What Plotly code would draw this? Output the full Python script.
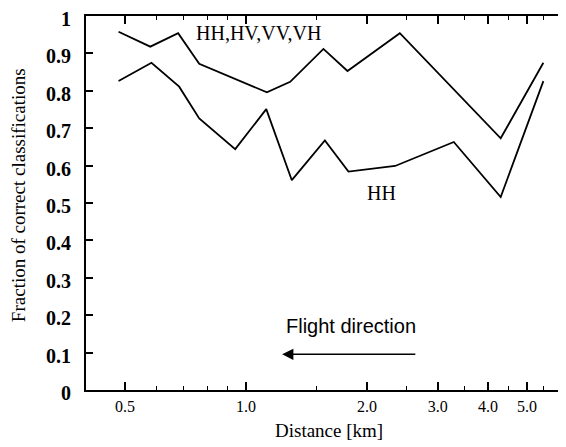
import math
import plotly.graph_objects as go

# Data
distance_all = [0.482, 0.578, 0.678, 0.765, 1.127, 1.288, 1.558, 1.788, 2.413, 4.30, 5.49]
fraction_all = [0.958, 0.918, 0.954, 0.872, 0.796, 0.824, 0.912, 0.853, 0.954, 0.673, 0.875]

distance_hh = [0.482, 0.582, 0.682, 0.765, 0.940, 1.123, 1.30, 1.571, 1.798, 2.349, 3.287, 4.30, 5.49]
fraction_hh = [0.826, 0.875, 0.811, 0.726, 0.644, 0.751, 0.561, 0.667, 0.584, 0.599, 0.663, 0.516, 0.826]

x_major_ticks = [0.5, 1.0, 2.0, 3.0, 4.0, 5.0]
x_major_labels = ["0.5", "1.0", "2.0", "3.0", "4.0", "5.0"]
x_minor_ticks = [0.6, 0.7, 0.8, 0.9, 1.5, 2.5, 3.5, 4.5, 5.5]
x_range = [0.4, 6.25]
y_range = [0, 1]

label_all = "HH,HV,VV,VH"
label_all_pos = (1.072, 0.955)
label_hh = "HH"
label_hh_pos = (2.17, 0.528)
flight_text = "Flight direction"
flight_text_pos = (1.823, 0.170)
arrow_from = (2.66, 0.0955)
arrow_to = (1.23, 0.0955)

SERIF = "Liberation Serif"
SANS = "Liberation Sans"

fig = go.Figure()
fig.add_trace(go.Scatter(x=distance_all, y=fraction_all, mode="lines",
                         line=dict(color="black", width=1.8), showlegend=False))
fig.add_trace(go.Scatter(x=distance_hh, y=fraction_hh, mode="lines",
                         line=dict(color="black", width=1.8), showlegend=False))
# invisible trace to carry the right-hand tick axis
fig.add_trace(go.Scatter(x=[distance_all[0]], y=[fraction_all[0]], yaxis="y2", mode="markers",
                         marker=dict(opacity=0), showlegend=False, hoverinfo="skip"))

# the page body has an 8px margin; the figure is sized to fill the rest of the window
fig.update_layout(
    width=558, height=439, autosize=False,
    margin=dict(l=78, r=0, t=8, b=57, autoexpand=False),
    paper_bgcolor="white", plot_bgcolor="white",
    font=dict(family=SERIF, color="black"),
    xaxis=dict(
        type="log", range=[math.log10(x_range[0]), math.log10(x_range[1])],
        showline=True, linecolor="black", linewidth=2, mirror="ticks",
        ticks="inside", ticklen=8, tickwidth=1.5, tickcolor="black",
        tickvals=x_major_ticks, ticktext=x_major_labels,
        minor=dict(tickvals=x_minor_ticks, ticks="inside", ticklen=4, tickwidth=1.2, tickcolor="black", showgrid=False),
        showgrid=False, zeroline=False,
        tickfont=dict(family=SERIF, size=16, color="black"),
        ticklabelstandoff=1,
    ),
    yaxis=dict(
        range=y_range, showline=True, linecolor="black", linewidth=2,
        ticks="inside", ticklen=7, tickwidth=1.5, tickcolor="black",
        dtick=0.1, tick0=0, showgrid=False, zeroline=False,
        tickfont=dict(family=SERIF, size=20, color="black", weight="bold"),
        ticklabelstandoff=9, ticklabelshift=3,
    ),
    yaxis2=dict(
        range=y_range, overlaying="y", side="right", showline=False,
        ticks="inside", ticklen=5, tickwidth=1.5, tickcolor="black",
        dtick=0.1, tick0=0, showticklabels=False, showgrid=False, zeroline=False,
    ),
    annotations=[
        dict(text=label_all, x=math.log10(label_all_pos[0]), y=label_all_pos[1], xref="x", yref="y",
             xanchor="center", yanchor="middle",
             showarrow=False, font=dict(family=SERIF, size=20, color="black")),
        dict(text=label_hh, x=math.log10(label_hh_pos[0]), y=label_hh_pos[1], xref="x", yref="y",
             xanchor="center", yanchor="middle",
             showarrow=False, font=dict(family=SERIF, size=20, color="black")),
        dict(text=flight_text, x=math.log10(flight_text_pos[0]), y=flight_text_pos[1], xref="x", yref="y",
             xanchor="center", yanchor="middle",
             showarrow=False, font=dict(family=SANS, size=20, color="black")),
        dict(text="", x=math.log10(arrow_to[0]), y=arrow_to[1], xref="x", yref="y",
             ax=math.log10(arrow_from[0]), ay=arrow_from[1], axref="x", ayref="y",
             showarrow=True, arrowhead=2, arrowsize=1.6, arrowwidth=1.4, arrowcolor="black"),
        dict(text="Distance [km]", x=0.506, y=-0.1096, xref="paper", yref="paper",
             xanchor="center", yanchor="middle",
             showarrow=False, font=dict(family=SERIF, size=19, color="black")),
        dict(text="Fraction of correct classifications", x=-0.1417, y=0.521, xref="paper", yref="paper",
             xanchor="center", yanchor="middle",
             showarrow=False, textangle=-90, font=dict(family=SERIF, size=19, color="black")),
    ],
)

fig.write_html("out.html")
